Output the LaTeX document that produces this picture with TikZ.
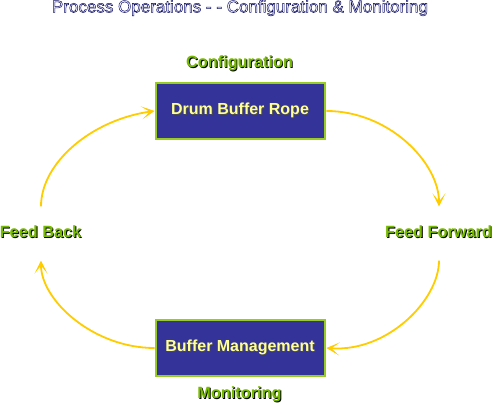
\documentclass[tikz,border=0pt]{standalone}
\usepackage{fontspec}
\setmainfont{Liberation Sans}
\usetikzlibrary{arrows.meta}

\definecolor{boxblue}{HTML}{333399}
\definecolor{boxrim}{HTML}{99CC22}
\definecolor{labgreen}{HTML}{77BB00}
\definecolor{linkyellow}{HTML}{FFCC00}
\definecolor{textyellow}{HTML}{FFFF99}

% text with a dark copy behind it
\newcommand{\shadowtext}[3]{%
  \tikz[baseline]{\node[inner sep=0,anchor=base,text=#2] at (0.9pt,-0.9pt) {#3};
  \node[inner sep=0,anchor=base,text=#1] at (0,0) {#3};}}
% white text with a blue outline (fill and stroke render mode)
\newcommand{\outlinetext}[1]{%
  {\color{white}\special{pdf:literal 2 Tr 0.5 w 0.05 0.05 0.4 RG}#1\special{pdf:literal 0 Tr}}}

\tikzset{
  stagebox/.style={rectangle,fill=boxblue,draw=boxrim,line width=2pt,
    minimum width=169pt,minimum height=56pt,inner sep=0pt,
    font=\fontsize{16}{18}\selectfont\bfseries},
  steplabel/.style={inner sep=0pt,font=\fontsize{16.3}{18}\selectfont\bfseries},
  link/.style={draw=linkyellow,line width=1.8pt,
    -{Stealth[length=13pt,width=13pt,inset=8pt,line width=1pt]}}
}

\begin{document}
\begin{tikzpicture}[x=1pt,y=1pt]

%fixing the margins
\useasboundingbox (0,0) rectangle (492,404);

%title
\node[inner sep=0pt,font=\fontsize{17}{19}\selectfont] (title) at (240,396)
  {\outlinetext{Process Operations - - Configuration \& Monitoring}};

%the two boxes
\node[stagebox] (dbr) at (240.5,293) {\shadowtext{textyellow}{black!70}{Drum Buffer Rope}};
\node[stagebox] (bm) at (240.5,56) {\shadowtext{textyellow}{black!70}{Buffer Management}};

%labels round the loop
\node[steplabel] (cfg) at (240,340) {\shadowtext{labgreen}{black}{Configuration}};
\node[steplabel] (mon) at (240,9) {\shadowtext{labgreen}{black}{Monitoring}};
\node[steplabel] (fb) at (41,172) {\shadowtext{labgreen}{black}{Feed Back}};
\node[steplabel] (ff) at (439,172) {\shadowtext{labgreen}{black}{Feed Forward}};

%arrows of the loop
\draw[link,shorten <=19pt] (fb.north) to[out=90,in=188] (dbr.west);
\draw[link,shorten >=19pt] (dbr.east) to[out=0,in=90] (ff.north);
\draw[link,shorten <=22pt] (ff.south) to[out=-90,in=-4] (bm.east);
\draw[link,shorten >=22pt] (bm.west) to[out=180,in=-90] (fb.south);

\end{tikzpicture}
\end{document}
